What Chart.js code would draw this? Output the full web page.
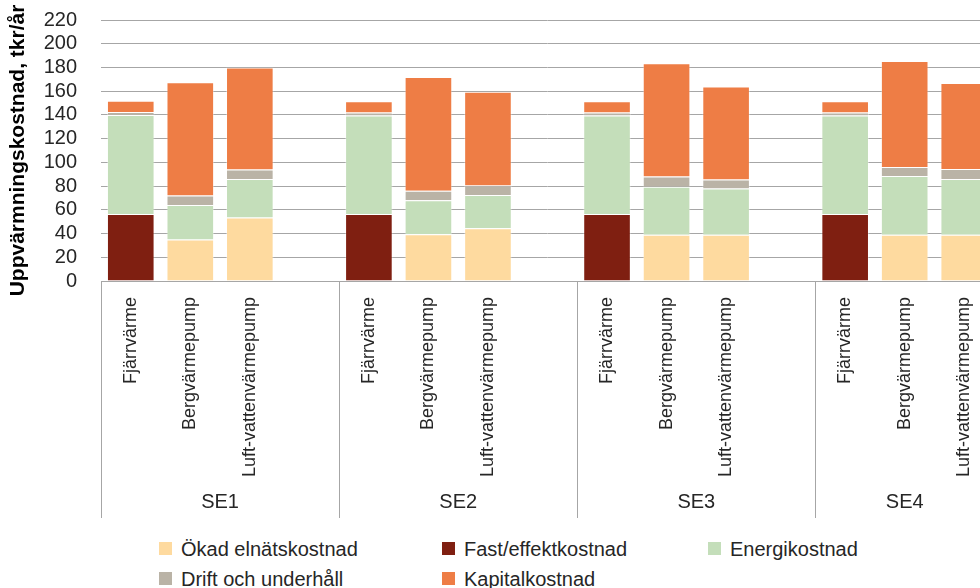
<!DOCTYPE html>
<html>
<head>
<meta charset="utf-8">
<script src="https://cdn.jsdelivr.net/npm/chart.js@4/dist/chart.umd.min.js"></script>
<style>
  html, body { margin: 0; padding: 0; background: #fff; overflow: hidden; width: 980px; height: 588px; }
  #wrap { position: absolute; left: 0; top: 0; width: 994px; height: 530px; }
  #legend { position: absolute; left: 159px; top: 540px; font-family: "Liberation Sans", Arial, sans-serif; font-size: 20px; color: #262626; }
  .item { position: absolute; white-space: nowrap; height: 18px; line-height: 18px; }
  .item span.box { position: absolute; left: 0; top: 2px; width: 13px; height: 13px; }
  .item span.txt { position: absolute; left: 22px; top: 0; }
</style>
</head>
<body>
<div id="wrap"><canvas id="chartKostnad"></canvas></div>
<div id="legend"></div>
<script>
const kategorier = ['Fjärrvärme', 'Bergvärmepump', 'Luft-vattenvärmepump', '',
                    'Fjärrvärme', 'Bergvärmepump', 'Luft-vattenvärmepump', '',
                    'Fjärrvärme', 'Bergvärmepump', 'Luft-vattenvärmepump', '',
                    'Fjärrvärme', 'Bergvärmepump', 'Luft-vattenvärmepump'];
const omraden = ['SE1', 'SE2', 'SE3', 'SE4'];
const yTicks = [0, 20, 40, 60, 80, 100, 120, 140, 160, 180, 200, 220];

const okadElnat = [0, 35, 53.5, null, 0, 39.5, 44.5, null, 0, 39, 39, null, 0, 39, 39];
const fastEffekt = [56.5, 0, 0, null, 56.5, 0, 0, null, 56.5, 0, 0, null, 56.5, 0, 0];
const energi = [83.5, 29, 32.5, null, 83, 28.5, 28, null, 83, 40.5, 39, null, 83, 49.5, 47];
const drift = [2.5, 8, 8, null, 2.5, 8, 8, null, 2.5, 8.5, 7.5, null, 2.5, 7.5, 8.5];
const kapital = [9.5, 95.5, 86, null, 9.5, 96, 79, null, 9.5, 95.5, 78.5, null, 9.5, 89.5, 72.5];

const serier = [
    { label: 'Ökad elnätskostnad', data: okadElnat, color: '#FEDA9F' },
    { label: 'Fast/effektkostnad', data: fastEffekt, color: '#7F1F11' },
    { label: 'Energikostnad', data: energi, color: '#C4DEBA' },
    { label: 'Drift och underhåll', data: drift, color: '#BAB3A6' },
    { label: 'Kapitalkostnad', data: kapital, color: '#EE7D45' }
];

const font = '"Liberation Sans", Arial, sans-serif';

// group separators and SE labels under the rotated tick labels
const gruppPlugin = {
    id: 'grupper',
    afterDraw(chart) {
        const x = chart.scales.x;
        const ctx = chart.ctx;
        const slot = x.width / kategorier.length;
        const bottom = chart.chartArea.bottom;
        ctx.save();
        ctx.strokeStyle = '#A6A6A6';
        ctx.lineWidth = 1;
        ctx.fillStyle = '#262626';
        ctx.font = '20px ' + font;
        ctx.textAlign = 'center';
        ctx.textBaseline = 'middle';
        omraden.forEach((namn, g) => {
            const left = x.getPixelForValue(g * 4) - slot / 2;
            const right = Math.min(left + slot * 4, chart.chartArea.right);
            const lx = Math.round(left) + 0.5;
            ctx.beginPath();
            ctx.moveTo(lx, bottom);
            ctx.lineTo(lx, 518);
            ctx.stroke();
            ctx.fillText(namn, (left + right) / 2, 502);
        });
        ctx.restore();
    }
};

const ctx = document.getElementById('chartKostnad').getContext('2d');
new Chart(ctx, {
    type: 'bar',
    data: {
        labels: kategorier,
        datasets: serier.map(s => ({
            label: s.label,
            data: s.data,
            backgroundColor: s.color,
            borderColor: 'rgba(255,255,255,0.35)',
            borderWidth: 1,
            categoryPercentage: 0.8,
            barPercentage: 1
        }))
    },
    options: {
        responsive: true,
        maintainAspectRatio: false,
        animation: false,
        layout: { padding: { top: 20, left: 0, right: 0, bottom: 0 } },
        plugins: {
            legend: { display: false },
            tooltip: { enabled: false }
        },
        scales: {
            x: {
                stacked: true,
                grid: { display: false },
                border: { display: true, color: '#A6A6A6', width: 1 },
                ticks: {
                    autoSkip: false,
                    minRotation: 90,
                    maxRotation: 90,
                    padding: 8,
                    color: '#262626',
                    font: { family: font, size: 18 }
                },
                afterFit: (scale) => { scale.height = 249; }
            },
            y: {
                stacked: true,
                min: 0,
                max: 220,
                afterBuildTicks: (scale) => { scale.ticks = yTicks.map(v => ({ value: v })); },
                grid: { color: '#A6A6A6', lineWidth: 1, drawTicks: false },
                border: { display: false },
                ticks: {
                    autoSkip: false,
                    padding: 24,
                    color: '#262626',
                    font: { family: font, size: 20 }
                },
                title: {
                    display: true,
                    text: 'Uppvärmningskostnad, tkr/år',
                    color: '#000',
                    padding: { top: 6, bottom: 0 },
                    font: { family: font, size: 21, weight: 'bold' }
                },
                afterFit: (scale) => {
                    scale.width = 101;
                    scale.paddingTop = 0;
                    scale.paddingBottom = 0;
                }
            }
        }
    },
    plugins: [gruppPlugin]
});

// legend in three fixed columns, as in the reference
const kolumner = [0, 283, 549];
const legend = document.getElementById('legend');
serier.forEach((s, i) => {
    const item = document.createElement('div');
    item.className = 'item';
    item.style.left = kolumner[i % 3] + 'px';
    item.style.top = (Math.floor(i / 3) * 30) + 'px';
    item.innerHTML = '<span class="box" style="background:' + s.color + '"></span><span class="txt">' + s.label + '</span>';
    legend.appendChild(item);
});
</script>
</body>
</html>
